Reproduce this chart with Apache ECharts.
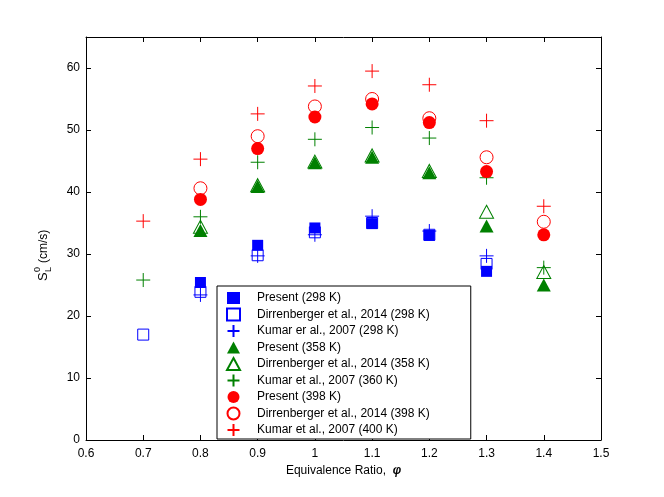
<!DOCTYPE html>
<html>
<head>
<meta charset="utf-8">
<script src="https://cdn.jsdelivr.net/npm/echarts@6/dist/echarts.min.js"></script>
<style>
html,body{margin:0;padding:0;background:#fff;}
#chart{width:664px;height:497px;}
</style>
</head>
<body>
<div id="chart"></div>
<script>
// ---- data ----
var xTicks = [0.6, 0.7, 0.8, 0.9, 1.0, 1.1, 1.2, 1.3, 1.4, 1.5];
var yTicks = [0, 10, 20, 30, 40, 50, 60];

var phiPresent298 = [0.8, 0.9, 1.0, 1.1, 1.2, 1.3];
var present298    = [25.4, 31.4, 34.2, 34.9, 33.0, 27.2];
var phiDirr298    = [0.7, 0.8, 0.9, 1.0, 1.1, 1.2, 1.3];
var dirr298       = [17.0, 23.9, 29.8, 33.5, 35.0, 33.1, 28.4];
var phiKumar298   = [0.8, 0.9, 1.0, 1.1, 1.2, 1.3];
var kumar298      = [23.4, 29.7, 33.1, 36.1, 33.7, 29.7];

var phiPresent358 = [0.8, 0.9, 1.0, 1.1, 1.2, 1.3, 1.4];
var present358    = [33.8, 40.9, 44.7, 45.6, 43.1, 34.5, 25.0];
var phiDirr358    = [0.8, 0.9, 1.0, 1.1, 1.2, 1.3, 1.4];
var dirr358       = [34.4, 41.1, 44.9, 45.9, 43.4, 36.8, 27.1];
var phiKumar360   = [0.7, 0.8, 0.9, 1.0, 1.1, 1.2, 1.3, 1.4];
var kumar360      = [25.8, 36.0, 44.8, 48.5, 50.4, 48.7, 42.3, 27.8];

var phiPresent398 = [0.8, 0.9, 1.0, 1.1, 1.2, 1.3, 1.4];
var present398    = [38.8, 47.0, 52.1, 54.2, 51.2, 43.3, 33.1];
var phiDirr398    = [0.8, 0.9, 1.0, 1.1, 1.2, 1.3, 1.4];
var dirr398       = [40.6, 49.0, 53.8, 55.0, 51.9, 45.6, 35.2];
var phiKumar400   = [0.7, 0.8, 0.9, 1.0, 1.1, 1.2, 1.3, 1.4];
var kumar400      = [35.3, 45.3, 52.6, 57.1, 59.5, 57.3, 51.5, 37.7];

var seriesNames = [
  'Present (298 K)', 'Dirrenberger et al., 2014 (298 K)', 'Kumar er al., 2007 (298 K)',
  'Present (358 K)', 'Dirrenberger et al., 2014 (358 K)', 'Kumar et al., 2007 (360 K)',
  'Present (398 K)', 'Dirrenberger et al., 2014 (398 K)', 'Kumar et al., 2007 (400 K)'
];

// ---- build ----
function pairs(xs, ys) { return xs.map(function (x, i) { return [x, ys[i]]; }); }
var PLUS = 'path://M0,7L14,7M7,0L7,14';
var BLUE = '#0000ff', GREEN = '#008000', RED = '#ff0000';

function filled(name, sym, size, color, xs, ys) {
  return { name: name, type: 'scatter', symbol: sym, symbolSize: size,
    itemStyle: { color: color, opacity: 1 }, data: pairs(xs, ys) };
}
function open(name, sym, size, color, xs, ys) {
  return { name: name, type: 'scatter', symbol: sym, symbolSize: size,
    itemStyle: { color: 'rgba(0,0,0,0)', borderColor: color, borderWidth: 1, opacity: 1 }, data: pairs(xs, ys) };
}

var series = [
  filled(seriesNames[0], 'rect', 11, BLUE, phiPresent298, present298),
  open(seriesNames[1], 'rect', 11, BLUE, phiDirr298, dirr298),
  open(seriesNames[2], PLUS, 14, BLUE, phiKumar298, kumar298),
  filled(seriesNames[3], 'triangle', [14, 13], GREEN, phiPresent358, present358),
  open(seriesNames[4], 'triangle', [14, 13], GREEN, phiDirr358, dirr358),
  open(seriesNames[5], PLUS, 14, GREEN, phiKumar360, kumar360),
  filled(seriesNames[6], 'circle', 13, RED, phiPresent398, present398),
  open(seriesNames[7], 'circle', 13, RED, phiDirr398, dirr398),
  open(seriesNames[8], PLUS, 14, RED, phiKumar400, kumar400)
];

var FONT = 'Liberation Sans, Arial, Helvetica, sans-serif';
var axisCommon = {
  axisLine: { show: true, onZero: false, lineStyle: { color: '#000', width: 1 } },
  axisTick: { show: true, inside: true, length: 5, lineStyle: { color: '#000' } },
  splitLine: { show: false }
};

var chart = echarts.init(document.getElementById('chart'), null, { renderer: 'canvas' });
chart.setOption({
  animation: false,
  backgroundColor: '#fff',
  textStyle: { fontFamily: FONT },
  grid: { left: 86, right: 63, top: 37, bottom: 57, containLabel: false },
  xAxis: [
    Object.assign({
      type: 'value', min: xTicks[0], max: xTicks[xTicks.length - 1], interval: 0.1,
      position: 'bottom',
      name: 'Equivalence Ratio,  {phi|φ}', nameLocation: 'middle', nameGap: 24,
      nameTextStyle: { color: '#000', fontSize: 12, fontFamily: FONT,
        rich: { phi: { fontWeight: 'bold', fontStyle: 'italic', fontSize: 12, fontFamily: FONT, color: '#000' } } },
      axisLabel: { color: '#000', fontSize: 12, margin: 8, fontFamily: FONT,
        formatter: function (v) { return String(+v.toFixed(1)); } }
    }, axisCommon),
    Object.assign({
      type: 'value', min: xTicks[0], max: xTicks[xTicks.length - 1], interval: 0.1,
      position: 'top', axisLabel: { show: false }
    }, axisCommon)
  ],
  yAxis: [
    Object.assign({
      type: 'value', min: 0, max: 65, interval: 10, position: 'left',
      axisLabel: { color: '#000', fontSize: 12, margin: 6, fontFamily: FONT, showMaxLabel: false,
        formatter: function (v) { return yTicks.indexOf(v) >= 0 ? String(v) : ''; } }
    }, axisCommon),
    Object.assign({
      type: 'value', min: 0, max: 65, interval: 10, position: 'right',
      axisLabel: { show: false }
    }, axisCommon)
  ],
  legend: {
    orient: 'vertical', left: 217, top: 286,
    data: seriesNames,
    itemWidth: 13, itemHeight: 12, itemGap: 2.5,
    symbolKeepAspect: true,
    padding: [5, 41, 2, 9],
    backgroundColor: '#fff', borderColor: '#000', borderWidth: 1, borderRadius: 0,
    textStyle: { color: '#000', fontSize: 12, fontFamily: FONT, lineHeight: 14, padding: [0, 0, 0, 12] },
    selectedMode: false
  },
  graphic: [{
    type: 'group', x: 50, y: 247, rotation: Math.PI / 2,
    children: [
      { type: 'text', x: -34, y: 0, style: { text: 'S', fontSize: 13, fontFamily: FONT, fill: '#000', verticalAlign: 'bottom' } },
      { type: 'text', x: -25, y: -8, style: { text: '0', fontSize: 9, fontFamily: FONT, fill: '#000', verticalAlign: 'bottom' } },
      { type: 'text', x: -25, y: 3, style: { text: 'L', fontSize: 9, fontFamily: FONT, fill: '#000', verticalAlign: 'bottom' } },
      { type: 'text', x: -16, y: 0, style: { text: '(cm/s)', fontSize: 12, fontFamily: FONT, fill: '#000', verticalAlign: 'bottom' } }
    ]
  }],
  series: series
});
</script>
</body>
</html>
